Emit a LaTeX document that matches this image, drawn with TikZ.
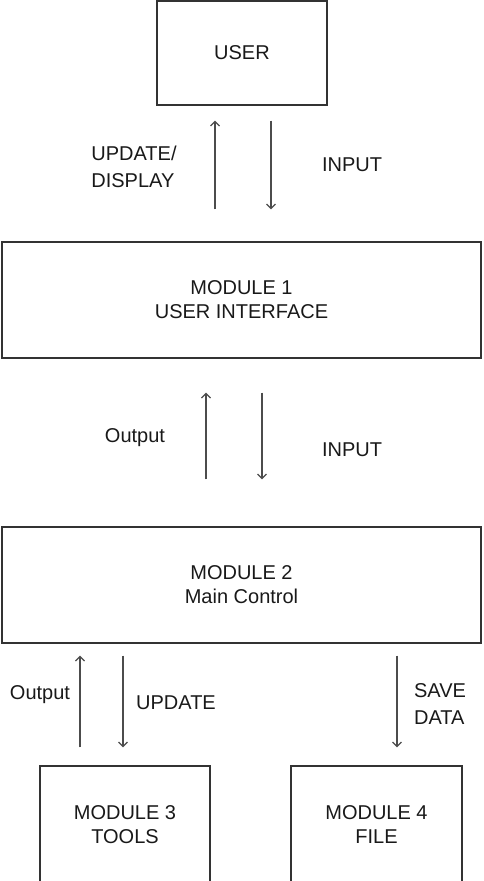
\documentclass[tikz,border=0pt]{standalone}
\usepackage{fontspec}
\setmainfont{Liberation Sans}
\usetikzlibrary{arrows.meta}
\begin{document}
\begin{tikzpicture}[x=1pt,y=-1pt,
  box/.style={draw=black!80,line width=1.3pt,inner sep=0pt,align=center,
    font=\fontsize{20}{24}\selectfont,text=black!90},
  lbl/.style={inner sep=0pt,font=\fontsize{20}{27}\selectfont,text=black!90},
  arr/.style={draw=black!70,line width=1.2pt,-{Straight Barb[length=4.5pt,width=9pt,line width=1.2pt]}}]
\useasboundingbox (0,0) rectangle (483,881);
\clip (0,0) rectangle (483,881);
\node[box,minimum width=170pt,minimum height=104pt] (user) at (242,53) {USER};
\node[box,minimum width=479pt,minimum height=116pt] (m1) at (241.5,300) {MODULE 1\\USER INTERFACE};
\node[box,minimum width=479pt,minimum height=116pt] (m2) at (241.5,585) {MODULE 2\\Main Control};
\node[box,minimum width=170pt,minimum height=118pt] (m3) at (125,825) {MODULE 3\\TOOLS};
\node[box,minimum width=171pt,minimum height=118pt] (m4) at (376.5,825) {MODULE 4\\FILE};
\coordinate (a1) at (215,0);
\coordinate (a2) at (271,0);
\coordinate (b1) at (206,0);
\coordinate (b2) at (262,0);
\coordinate (c1) at (80,0);
\coordinate (c2) at (123,0);
\coordinate (c3) at (397,0);
\draw[arr,shorten <=32pt,shorten >=15pt] (m1.north -| a1) -- (user.south -| a1);
\draw[arr,shorten <=15pt,shorten >=32pt] (user.south -| a2) -- (m1.north -| a2);
\draw[arr,shorten <=47pt,shorten >=34pt] (m2.north -| b1) -- (m1.south -| b1);
\draw[arr,shorten <=34pt,shorten >=47pt] (m1.south -| b2) -- (m2.north -| b2);
\draw[arr,shorten <=18pt,shorten >=12pt] (m3.north -| c1) -- (m2.south -| c1);
\draw[arr,shorten <=12pt,shorten >=18pt] (m2.south -| c2) -- (m3.north -| c2);
\draw[arr,shorten <=12pt,shorten >=18pt] (m2.south -| c3) -- (m4.north -| c3);
\node[lbl,align=left] (l1) at (134,167) {UPDATE/\\DISPLAY};
\node[lbl] (l2) at (352,165) {INPUT};
\node[lbl] (l3) at (135,438) {Output};
\node[lbl] (l4) at (352,450) {INPUT};
\node[lbl] (l5) at (40,695) {Output};
\node[lbl] (l6) at (176,703) {UPDATE};
\node[lbl,align=left] (l7) at (440,704) {SAVE\\DATA};
\end{tikzpicture}
\end{document}
